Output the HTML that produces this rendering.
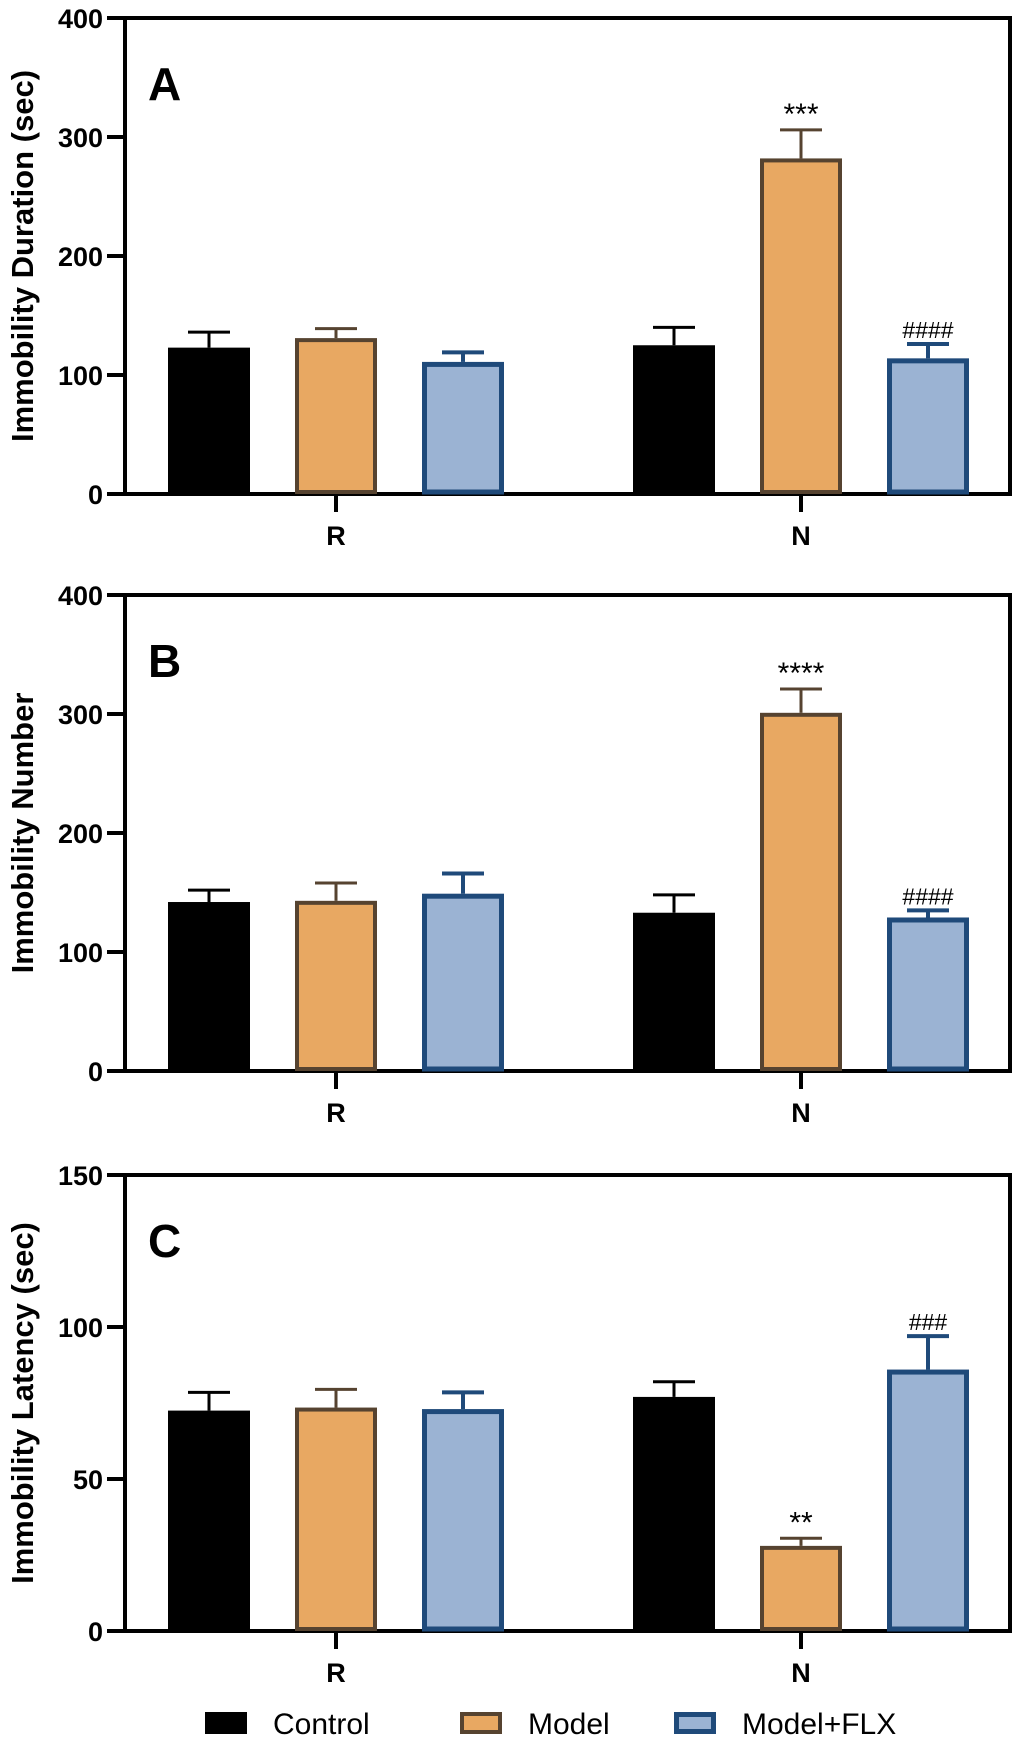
<!DOCTYPE html>
<html><head><meta charset="utf-8"><style>
html,body{margin:0;padding:0;background:#fff;}
svg{display:block;font-family:"Liberation Sans",Arial,sans-serif;}
</style></head><body>
<svg id="fig" width="1020" height="1741" viewBox="0 0 1020 1741"></svg>
<script>
const groups = ["R", "N"];
const seriesNames = ["Control", "Model", "Model+FLX"];
// Panel A
const aMeans = [[123, 131, 111], [125, 282, 114]];
const aErrs = [[13, 8, 8], [15, 24, 12]];
const aMarks = [["", "", ""], ["", "***", "####"]];
const aTicks = [0, 100, 200, 300, 400];
// Panel B
const bMeans = [[142, 143, 149], [133, 301, 129]];
const bErrs = [[10, 15, 17], [15, 20, 6]];
const bMarks = [["", "", ""], ["", "****", "####"]];
const bTicks = [0, 100, 200, 300, 400];
// Panel C
const cMeans = [[72.5, 73.5, 73], [77, 28, 86]];
const cErrs = [[6, 6, 5.5], [5, 2.5, 11]];
const cMarks = [["", "", ""], ["", "**", "###"]];
const cTicks = [0, 50, 100, 150];

const NS = "http://www.w3.org/2000/svg";
const svg = document.getElementById('fig');
function mk(tag, attrs, parent, text) {
  const e = document.createElementNS(NS, tag);
  for (const k in attrs) e.setAttribute(k, attrs[k]);
  if (text !== undefined) e.textContent = text;
  (parent || svg).appendChild(e);
  return e;
}
const fills = ["#000000", "#e8a862", "#9bb3d3"];
const strokes = ["#000000", "#564330", "#1f4a7a"];
const sw = [0, 4, 5];

function panel(id, letter, title, top, base, means, errs, marks, ticks) {
  const L = 125, R = 1010;
  const g = mk('g', {});
  
  
  const ymax = ticks[ticks.length - 1];
  const y = v => base - (v / ymax) * (base - top);
  const groupCenters = [336, 801];
  const offs = [-127, 0, 127];
  const bw = 82;
  const fr = mk('rect', {x: L, y: top, width: R - L, height: base - top, fill: 'none', stroke: '#000', 'stroke-width': 4}, g);
  
  
  ticks.forEach(t => {
    const tl = mk('line', {x1: L - 18, x2: L, y1: y(t), y2: y(t), stroke: '#000', 'stroke-width': 4}, g);
    
    
    const tx = mk('text', {x: L - 22, y: y(t) + 10, 'text-anchor': 'end', 'font-size': 27, 'font-weight': 'bold'}, g, String(t));
    
    
  });
  const mid = (top + base) / 2;
  const tt = mk('text', {x: 0, y: 0, transform: `translate(33,${mid}) rotate(-90)`, 'text-anchor': 'middle', 'font-size': 31, 'font-weight': 'bold'}, g, title);
  
  
  const lt = mk('text', {x: 148, y: top + 82, 'font-size': 46, 'font-weight': 'bold'}, g, letter);
  
  
  groups.forEach((gn, gi) => {
    const cx0 = groupCenters[gi];
    const xt = mk('line', {x1: cx0, x2: cx0, y1: base, y2: base + 18, stroke: '#000', 'stroke-width': 4}, g);
    
    
    const xl = mk('text', {x: cx0, y: base + 51, 'text-anchor': 'middle', 'font-size': 27, 'font-weight': 'bold'}, g, gn);
    
    
    means[gi].forEach((m, si) => {
      const cx = cx0 + offs[si];
      const yt = y(m), ye = y(m + errs[gi][si]);
      const eb = mk('line', {x1: cx, x2: cx, y1: yt, y2: ye, stroke: strokes[si], 'stroke-width': si === 2 ? 4 : 3}, g);
      
      
      const cap = mk('line', {x1: cx - 21, x2: cx + 21, y1: ye, y2: ye, stroke: strokes[si], 'stroke-width': si === 2 ? 4 : 3}, g);
      
      
      const s = sw[si];
      const b = mk('rect', {x: cx - bw / 2 + s / 2, y: yt + s / 2, width: bw - s, height: base - yt - s / 2 - 2, fill: fills[si], stroke: strokes[si], 'stroke-width': s}, g);
      
      
      if (marks[gi][si]) {
        const st = mk('text', {x: cx, y: ye - 6, 'text-anchor': 'middle', 'font-size': marks[gi][si][0] === '*' ? 30 : 23}, g, marks[gi][si]);
        
        
      }
    });
  });
}
panel('a', 'A', 'Immobility Duration (sec)', 18, 494, aMeans, aErrs, aMarks, aTicks);
panel('b', 'B', 'Immobility Number', 595, 1071, bMeans, bErrs, bMarks, bTicks);
panel('c', 'C', 'Immobility Latency (sec)', 1175, 1631, cMeans, cErrs, cMarks, cTicks);

const lg = mk('g', {});


const lx = [205, 460, 674];
seriesNames.forEach((n, i) => {
  const s = sw[i];
  const r = mk('rect', {x: lx[i] + s / 2, y: 1712 + s / 2, width: 42 - s, height: 22 - s, fill: fills[i], stroke: strokes[i], 'stroke-width': s}, lg);
  
  
  const t = mk('text', {x: lx[i] + 68, y: 1734, 'font-size': 30}, lg, n);
  
  
});
</script>
</body></html>
